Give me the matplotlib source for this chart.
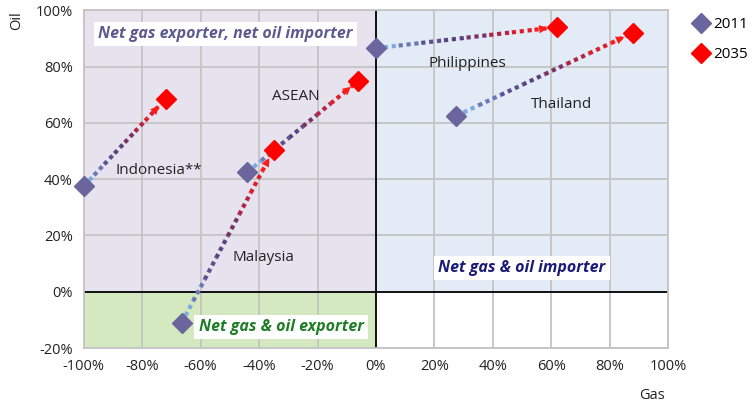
import matplotlib.pyplot as plt
import numpy as np
from matplotlib.collections import LineCollection
from matplotlib.colors import LinearSegmentedColormap

plt.rcParams['font.family'] = ['Open Sans', 'DejaVu Sans']

# data: gas / oil net import share (%)
countries = ["Indonesia**", "ASEAN", "Malaysia", "Philippines", "Thailand"]
gas_2011 = [-100, -44, -66.5, 0, 27.5]
oil_2011 = [37.5, 42.5, -11, 86.5, 62.5]
gas_2035 = [-72, -6, -35, 62, 88]
oil_2035 = [68.5, 75, 50.5, 94, 92]

# label positions (data coords)
label_x = [-89, -35.5, -49, 18, 53]
label_y = [43, 69.5, 12, 81, 66.5]

fig = plt.figure(figsize=(7.55, 4.08), dpi=100)
ax = fig.add_axes([0.111, 0.147, 0.774, 0.828])
ax.set_xlim(-100, 100)
ax.set_ylim(-20, 100)

# quadrant backgrounds
ax.fill_between([-100, 0], 0, 100, color="#e6e3ee", zorder=0, lw=0)
ax.fill_between([0, 100], 0, 100, color="#e3ebf7", zorder=0, lw=0)
ax.fill_between([-100, 0], -20, 0, color="#d5e9c1", zorder=0, lw=0)

ax.set_xticks(np.arange(-100, 101, 20))
ax.set_yticks(np.arange(-20, 101, 20))
ax.set_xticklabels([f"{v}%" for v in range(-100, 101, 20)])
ax.set_yticklabels([f"{v}%" for v in range(-20, 101, 20)])
ax.grid(True, color="#c4c4c4", lw=1.3, zorder=1)
ax.set_axisbelow(True)
ax.tick_params(length=0, labelsize=10.5, colors="#222222", pad=8)
for s in ax.spines.values():
    s.set_color("#c4c4c4")
    s.set_linewidth(1.3)

ax.axhline(0, color="#111111", lw=1.4, zorder=2)
ax.axvline(0, color="#111111", lw=1.4, zorder=2)

cmap = LinearSegmentedColormap.from_list(
    "arr", ["#7fa8e0", "#5a5590", "#5a3a78", "#c0203a", "#ff1a1a"])

for i in range(len(countries)):
    xs = np.linspace(gas_2011[i], gas_2035[i], 9)
    ys = np.linspace(oil_2011[i], oil_2035[i], 9)
    pts = np.column_stack([xs, ys])
    segs = np.stack([pts[:-1], pts[1:]], axis=1)
    lc = LineCollection(segs, colors=cmap(np.linspace(0, 1, len(segs))),
                        linewidths=3.0, linestyles=[(0, (1.0, 0.9))],
                        capstyle="butt", zorder=3)
    ax.add_collection(lc)
    ax.annotate("", xy=(gas_2035[i], oil_2035[i]),
                xytext=(xs[-3], ys[-3]),
                arrowprops=dict(arrowstyle="-|>", color="#ff1a1a", lw=0,
                                mutation_scale=15, shrinkA=0, shrinkB=7),
                zorder=4)
    ax.text(label_x[i], label_y[i], countries[i], fontsize=11,
            color="#222222", va="center", ha="left", zorder=5)

ax.plot(gas_2011, oil_2011, "D", color="#6a659c", ms=10, ls="none",
        zorder=5, clip_on=False, label="2011")
ax.plot(gas_2035, oil_2035, "D", color="#ff0000", ms=10, ls="none",
        zorder=5, clip_on=False, label="2035")

box = dict(facecolor="white", edgecolor="none", pad=3)
ax.text(-51.5, 91.5, "Net gas exporter, net oil importer", fontsize=11.5,
        style="italic", weight="bold", color="#5c5a8e", ha="center",
        va="center", bbox=box, zorder=6)
ax.text(50, 8.5, "Net gas & oil importer", fontsize=11.5, style="italic",
        weight="bold", color="#1a1a78", ha="center", va="center",
        bbox=box, zorder=6)
ax.text(-32.5, -12.5, "Net gas & oil exporter", fontsize=11.5, style="italic",
        weight="bold", color="#1e7d24", ha="center", va="center",
        bbox=box, zorder=6)

ax.legend(loc="upper left", bbox_to_anchor=(1.02, 1.02), frameon=False,
          fontsize=11, handletextpad=0.3, labelspacing=1.0,
          handlelength=1.0)

fig.text(0.022, 0.95, "Oil", rotation=90, fontsize=10.5, ha="center",
         va="center", color="#222222")
fig.text(0.864, 0.03, "Gas", fontsize=10.5, ha="center", va="center",
         color="#222222")

fig.savefig("out.png", dpi=100)
